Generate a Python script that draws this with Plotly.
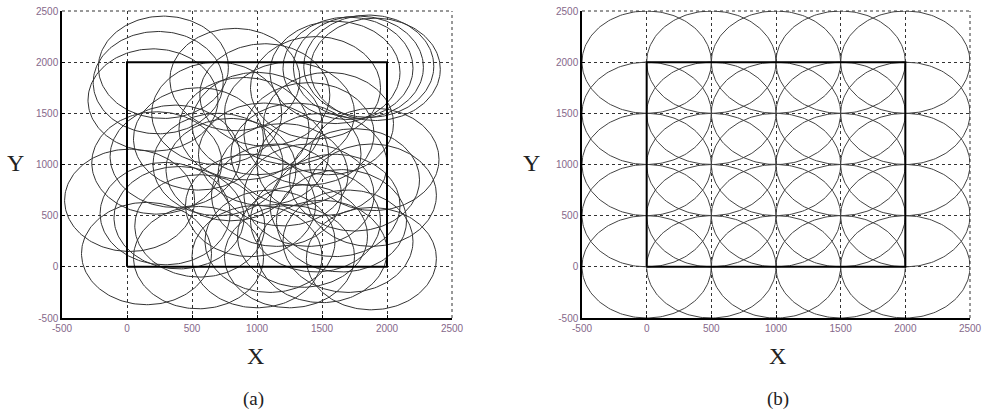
import numpy as np
import plotly.graph_objects as go

# ---- data ----
radius = 500
# (a) random deployment: circle centres
rand_x = [280, 240, 200, 830, 1060, 690, 1600, 1700, 1780, 1860, 1910, 1450,
          1250, 1550, 900, 550, 370, 229, 20, 293, 400, 150, 550, 560,
          800, 1050, 1300, 1500, 1900, 1880, 1750, 1600, 1400, 1150, 950, 1880,
          1700, 1500, 1350, 1250, 1100, 1450, 1000, 1650, 700, 1200, 1400, 1000]
rand_y = [1950, 1800, 1630, 1830, 1680, 1500, 1900, 1940, 1950, 1960, 1930, 1750,
          1500, 1400, 1350, 1250, 1080, 1015, 650, 520, 480, 130, 90, 400,
          950, 1100, 1100, 1000, 1050, 700, 850, 600, 700, 700, 600, 80,
          250, 150, 300, 100, 250, 450, 100, 450, 1000, 900, 1300, 1400]
# (b) grid deployment: circle centres
grid_x = [0, 500, 1000, 1500, 2000]
grid_y = [0, 500, 1000, 1500, 2000]
# region of interest
rect_x = [0, 2000, 2000, 0, 0]
rect_y = [0, 0, 2000, 2000, 0]
ticks = [-500, 0, 500, 1000, 1500, 2000, 2500]
axis_range = [-500, 2500]

t = np.linspace(0, 2 * np.pi, 181)


def circles(cx, cy, r):
    xs, ys = [], []
    for a, b in zip(cx, cy):
        xs += list(a + r * np.cos(t)) + [None]
        ys += list(b + r * np.sin(t)) + [None]
    return xs, ys


fig = go.Figure()

ax_, ay_ = circles(rand_x, rand_y, radius)
fig.add_trace(go.Scatter(x=ax_, y=ay_, mode="lines", line=dict(color="#333333", width=1),
                         xaxis="x", yaxis="y", hoverinfo="skip"))
fig.add_trace(go.Scatter(x=rect_x, y=rect_y, mode="lines", line=dict(color="black", width=2),
                         xaxis="x", yaxis="y"))

gx, gy = np.meshgrid(grid_x, grid_y)
bx_, by_ = circles(gx.ravel(), gy.ravel(), radius)
fig.add_trace(go.Scatter(x=bx_, y=by_, mode="lines", line=dict(color="#444444", width=1),
                         xaxis="x2", yaxis="y2", hoverinfo="skip"))
fig.add_trace(go.Scatter(x=rect_x, y=rect_y, mode="lines", line=dict(color="black", width=2),
                         xaxis="x2", yaxis="y2"))

tickfont = dict(family="Liberation Sans, Arial", size=10, color="#85688a")
common = dict(range=axis_range, tickvals=ticks, ticktext=[str(v) for v in ticks],
              showgrid=True, gridcolor="#333333", griddash="dot", gridwidth=1,
              showline=True, linecolor="black", linewidth=1.5, zeroline=False,
              ticks="inside", ticklen=3, tickcolor="black", tickfont=tickfont,
              automargin=False)

W, H = 986, 411


def fx(px):
    return px / W


def fy(py):
    return 1 - py / H


ydom = [fy(318), fy(11)]
fig.update_layout(
    width=W, height=H, margin=dict(l=0, r=0, t=0, b=0, pad=0),
    paper_bgcolor="white", plot_bgcolor="white", showlegend=False,
    xaxis=dict(domain=[fx(62), fx(452)], anchor="y", **common),
    yaxis=dict(domain=ydom, anchor="x", **common),
    xaxis2=dict(domain=[fx(582), fx(970)], anchor="y2", **common),
    yaxis2=dict(domain=ydom, anchor="x2", **common),
)

# dotted frame on the top and right edges (MATLAB-style grid box)
for xr, yr in (("x", "y"), ("x2", "y2")):
    fig.add_shape(type="line", xref=f"{xr} domain", yref=f"{yr} domain", x0=0, x1=1, y0=1, y1=1,
                  line=dict(color="#333333", width=1, dash="dot"))
    fig.add_shape(type="line", xref=f"{xr} domain", yref=f"{yr} domain", x0=1, x1=1, y0=0, y1=1,
                  line=dict(color="#333333", width=1, dash="dot"))

serif = "Liberation Serif, Times New Roman, serif"
annots = [
    ("Y", 15, 163, 24), ("X", 255, 356, 24), ("(a)", 254, 399, 19),
    ("Y", 531, 163, 24), ("X", 777, 356, 24), ("(b)", 778, 399, 19),
]
for txt, px, py, fs in annots:
    fig.add_annotation(text=txt, x=fx(px), y=fy(py), xref="paper", yref="paper",
                       showarrow=False, font=dict(family=serif, size=fs, color="#222"),
                       xanchor="center", yanchor="middle")

# remove the default page margin so the figure fills the window exactly
fig.write_html("out.html", config={"displayModeBar": False},
               post_script="document.body.style.margin='0';document.body.style.overflow='hidden';")
